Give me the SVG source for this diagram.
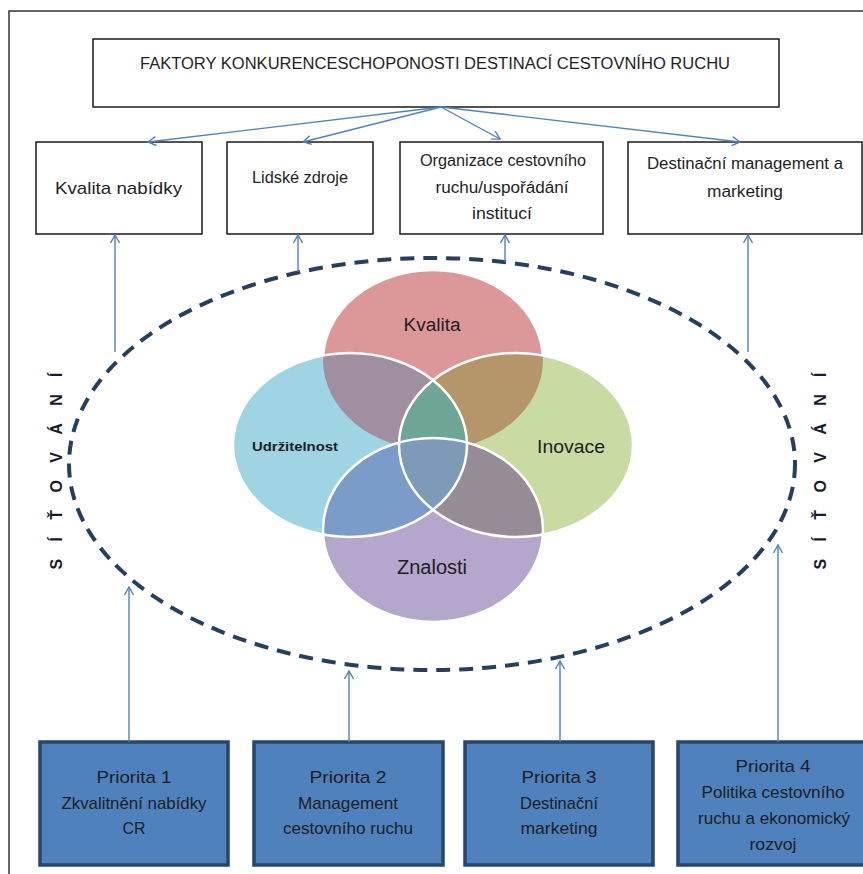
<svg xmlns="http://www.w3.org/2000/svg" width="863" height="874" viewBox="0 0 863 874">
<style>
.t{font-family:"Liberation Sans",Arial,sans-serif;fill:#1e1e24;text-anchor:middle}
.box{fill:#ffffff;stroke:#1a1a1a;stroke-width:1.5}
.pbox{fill:#4f81bd;stroke:#26466c;stroke-width:3.5}
.con{stroke:#4f81bd;stroke-width:1.4;fill:none}
.wl{fill:none;stroke:#ffffff;stroke-width:2.5}
.sit{font-family:"Liberation Sans",Arial,sans-serif;font-weight:bold;fill:#1a1a2e;text-anchor:middle;font-size:16px}
</style>
<defs>
<marker id="ah" markerWidth="12" markerHeight="12" refX="9" refY="5" orient="auto" markerUnits="userSpaceOnUse">
<path d="M1,0.5 L9,5 L1,9.5" fill="none" stroke="#4f81bd" stroke-width="1.4"/>
</marker>
<clipPath id="cR"><ellipse cx="433" cy="360" rx="110" ry="90"/></clipPath>
<clipPath id="cB"><ellipse cx="350" cy="445" rx="117" ry="92"/></clipPath>
<clipPath id="cG"><ellipse cx="516" cy="445" rx="117" ry="92"/></clipPath>
<clipPath id="cP"><ellipse cx="433" cy="530" rx="110" ry="92"/></clipPath>
</defs>
<rect width="863" height="874" fill="#ffffff"/>
<g id="frame"><path d="M9,874 L9,11 L863,11" fill="none" stroke="#333333" stroke-width="1.5"/></g>

<g id="title"><rect class="box" x="93" y="39" width="686" height="68"/>
<text class="t" x="435" y="69" font-size="16" textLength="590" lengthAdjust="spacingAndGlyphs">FAKTORY KONKURENCESCHOPONOSTI DESTINACÍ CESTOVNÍHO RUCHU</text></g>

<g id="kvalita-nabidky"><rect class="box" x="36" y="142" width="166" height="92"/>
<text class="t" x="118.5" y="194" font-size="17" textLength="127" lengthAdjust="spacingAndGlyphs">Kvalita nabídky</text></g>
<g id="lidske-zdroje"><rect class="box" x="227" y="142" width="146" height="92"/>
<text class="t" x="300" y="183" font-size="16" textLength="96" lengthAdjust="spacingAndGlyphs">Lidské zdroje</text></g>
<g id="organizace"><rect class="box" x="400" y="142" width="203" height="92"/>
<text class="t" x="503" y="166" font-size="16" textLength="166" lengthAdjust="spacingAndGlyphs">Organizace cestovního</text>
<text class="t" x="502" y="193" font-size="16" textLength="133" lengthAdjust="spacingAndGlyphs">ruchu/uspořádání</text>
<text class="t" x="502" y="219" font-size="16" textLength="60" lengthAdjust="spacingAndGlyphs">institucí</text></g>
<g id="destinacni-management"><rect class="box" x="628" y="142" width="234" height="92"/>
<text class="t" x="745" y="169" font-size="16" textLength="196" lengthAdjust="spacingAndGlyphs">Destinační management a</text>
<text class="t" x="745" y="197" font-size="16" textLength="76" lengthAdjust="spacingAndGlyphs">marketing</text></g>

<g id="venn">
<ellipse cx="433" cy="360" rx="110" ry="90" fill="#dc9898"/>
<ellipse cx="433" cy="360" rx="110" ry="90" class="wl"/>
<ellipse cx="516" cy="445" rx="117" ry="92" fill="#c8dba2"/>
<ellipse cx="433" cy="530" rx="110" ry="92" fill="#b5a6cc"/>
<ellipse cx="350" cy="445" rx="117" ry="92" fill="#9fd4e2"/>
<ellipse cx="350" cy="445" rx="117" ry="92" fill="#a08fa0" clip-path="url(#cR)"/>
<ellipse cx="516" cy="445" rx="117" ry="92" fill="#b4966a" clip-path="url(#cR)"/>
<ellipse cx="350" cy="445" rx="117" ry="92" fill="#7b9bc8" clip-path="url(#cP)"/>
<ellipse cx="516" cy="445" rx="117" ry="92" fill="#968c96" clip-path="url(#cP)"/>
<g clip-path="url(#cB)"><ellipse cx="516" cy="445" rx="117" ry="92" fill="#6ea596"/></g>
<g clip-path="url(#cB)"><ellipse cx="516" cy="445" rx="117" ry="92" fill="#7d9bb9" clip-path="url(#cP)"/></g>
<ellipse cx="516" cy="445" rx="117" ry="92" class="wl"/>
<ellipse cx="433" cy="530" rx="110" ry="92" class="wl"/>
<ellipse cx="350" cy="445" rx="117" ry="92" class="wl"/>
<text class="t" x="432" y="331" font-size="18" textLength="57" lengthAdjust="spacingAndGlyphs">Kvalita</text>
<text class="t" x="295" y="451" font-size="12.5" font-weight="bold" textLength="86" lengthAdjust="spacingAndGlyphs">Udržitelnost</text>
<text class="t" x="571" y="453" font-size="19" textLength="68" lengthAdjust="spacingAndGlyphs">Inovace</text>
<text class="t" x="432" y="574" font-size="20" textLength="70" lengthAdjust="spacingAndGlyphs">Znalosti</text>
</g>

<g id="sitovani">
<ellipse cx="432" cy="464" rx="363" ry="206" fill="none" stroke="#243f60" stroke-width="4" stroke-dasharray="14 9"/>
<text class="sit" transform="translate(62,471) rotate(-90)" textLength="197" lengthAdjust="spacing">S Í Ť O V Á N Í</text>
<text class="sit" transform="translate(826,471) rotate(-90)" textLength="197" lengthAdjust="spacing">S Í Ť O V Á N Í</text>
</g>

<g id="priorita-1"><rect class="pbox" x="40" y="742" width="188" height="123"/>
<text class="t" x="134" y="783" font-size="17" textLength="75" lengthAdjust="spacingAndGlyphs">Priorita 1</text>
<text class="t" x="134" y="809" font-size="17" textLength="145" lengthAdjust="spacingAndGlyphs">Zkvalitnění nabídky</text>
<text class="t" x="134" y="834" font-size="16">CR</text></g>
<g id="priorita-2"><rect class="pbox" x="254" y="742" width="189" height="123"/>
<text class="t" x="348" y="783" font-size="17" textLength="77" lengthAdjust="spacingAndGlyphs">Priorita 2</text>
<text class="t" x="348" y="809" font-size="17" textLength="100" lengthAdjust="spacingAndGlyphs">Management</text>
<text class="t" x="348" y="834" font-size="17" textLength="130" lengthAdjust="spacingAndGlyphs">cestovního ruchu</text></g>
<g id="priorita-3"><rect class="pbox" x="465" y="742" width="188" height="123"/>
<text class="t" x="559" y="783" font-size="17" textLength="75" lengthAdjust="spacingAndGlyphs">Priorita 3</text>
<text class="t" x="559" y="809" font-size="17" textLength="78" lengthAdjust="spacingAndGlyphs">Destinační</text>
<text class="t" x="559" y="834" font-size="17" textLength="77" lengthAdjust="spacingAndGlyphs">marketing</text></g>
<g id="priorita-4"><rect class="pbox" x="678" y="742" width="196" height="123"/>
<text class="t" x="773" y="772" font-size="17" textLength="75" lengthAdjust="spacingAndGlyphs">Priorita 4</text>
<text class="t" x="773" y="798" font-size="17" textLength="143" lengthAdjust="spacingAndGlyphs">Politika cestovního</text>
<text class="t" x="774" y="824" font-size="17" textLength="152" lengthAdjust="spacingAndGlyphs">ruchu a ekonomický</text>
<text class="t" x="773" y="850" font-size="17" textLength="47" lengthAdjust="spacingAndGlyphs">rozvoj</text></g>

<g id="connectors">
<line class="con" x1="441" y1="107" x2="148" y2="142" marker-end="url(#ah)"/>
<line class="con" x1="441" y1="107" x2="303" y2="142" marker-end="url(#ah)"/>
<line class="con" x1="441" y1="107" x2="500" y2="139" marker-end="url(#ah)"/>
<line class="con" x1="441" y1="107" x2="740" y2="142" marker-end="url(#ah)"/>
<line class="con" x1="115" y1="352" x2="115" y2="235" marker-end="url(#ah)"/>
<line class="con" x1="298" y1="272" x2="298" y2="235" marker-end="url(#ah)"/>
<line class="con" x1="505" y1="262" x2="505" y2="235" marker-end="url(#ah)"/>
<line class="con" x1="748" y1="352" x2="748" y2="235" marker-end="url(#ah)"/>
<line class="con" x1="129" y1="742" x2="129" y2="587" marker-end="url(#ah)"/>
<line class="con" x1="349" y1="742" x2="349" y2="671" marker-end="url(#ah)"/>
<line class="con" x1="560" y1="742" x2="560" y2="661" marker-end="url(#ah)"/>
<line class="con" x1="778" y1="742" x2="778" y2="545" marker-end="url(#ah)"/>
</g>
</svg>
